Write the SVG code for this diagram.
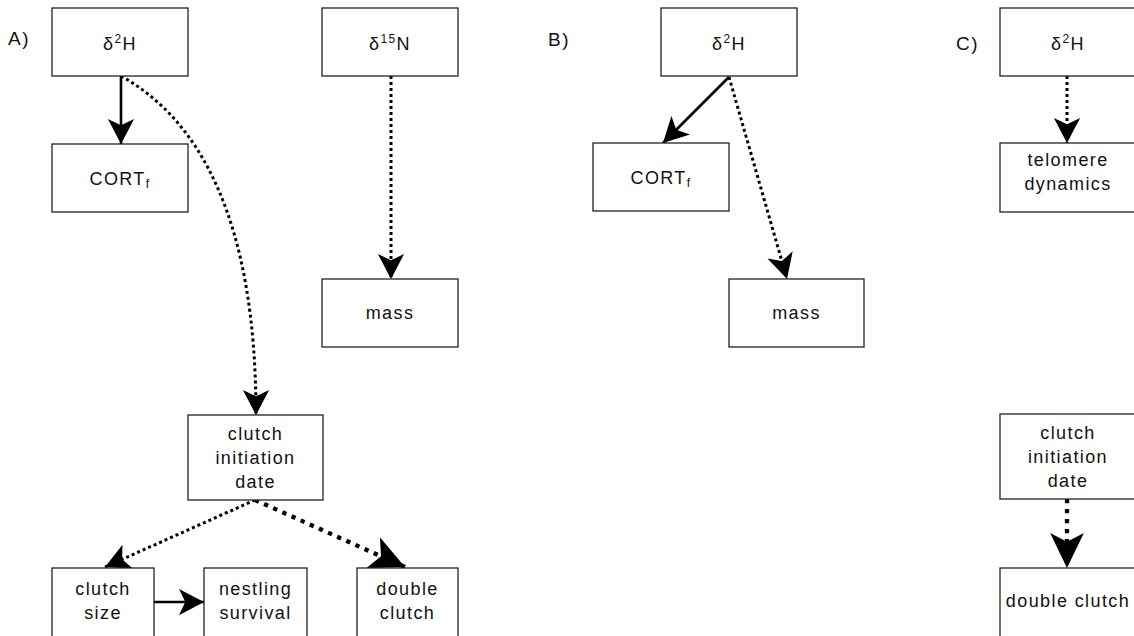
<svg xmlns="http://www.w3.org/2000/svg" width="1134" height="636" viewBox="0 0 1134 636">
<style>
.box{fill:#fff;stroke:#222;stroke-width:1.3}
text{font-family:"Liberation Sans",Arial,sans-serif;font-size:18px;fill:#111;letter-spacing:1.4px}
.c{text-anchor:middle}
.lbl{font-size:19px;letter-spacing:1.5px}
.solid{fill:none;stroke:#000;stroke-width:2.6}
.dot{fill:none;stroke:#000;stroke-width:3;stroke-dasharray:3 3}
.dash{fill:none;stroke:#000;stroke-width:4.3;stroke-dasharray:4.3 5.7}
</style>
<defs>
<marker id="ah" markerUnits="userSpaceOnUse" markerWidth="30" markerHeight="30" viewBox="-22 -12 24 24" refX="0" refY="0" orient="auto" overflow="visible">
<path d="M0,0 L-20,-10.5 L-15,0 L-20,10.5 Z" fill="#000"/>
</marker>
<marker id="ahb" markerUnits="userSpaceOnUse" markerWidth="40" markerHeight="40" viewBox="-30 -15 32 30" refX="0" refY="0" orient="auto" overflow="visible">
<path d="M0,0 L-28,-13.5 L-21,0 L-28,13.5 Z" fill="#000"/>
</marker>
</defs>

<text class="lbl" x="8" y="45">A)</text>
<text class="lbl" x="548" y="46">B)</text>
<text class="lbl" x="956" y="50">C)</text>

<g id="connectors">
<path class="solid" d="M121,76 L121,144" marker-end="url(#ah)"/>
<path class="dot" d="M121,76 C200,120 256,220 256,415" marker-end="url(#ah)"/>
<path class="dot" d="M391,76 L391,279" marker-end="url(#ah)"/>
<path class="dot" d="M255,500 L105,567" marker-end="url(#ah)"/>
<path class="dash" d="M255,500 L405,567" marker-end="url(#ahb)"/>
<path class="solid" d="M154,602 L204,602" marker-end="url(#ah)"/>
<path class="solid" d="M729,77 L663,143" marker-end="url(#ah)"/>
<path class="dot" d="M729,77 L787,279" marker-end="url(#ah)"/>
<path class="dot" d="M1067,76 L1067,143" marker-end="url(#ah)"/>
<path class="dash" d="M1067,499 L1067,568" marker-end="url(#ahb)"/>
</g>

<g id="A_d2H"><rect class="box" x="52" y="8" width="136" height="68"/><text class="c" x="120" y="50">δ<tspan font-size="12" dy="-7">2</tspan><tspan dy="7">H</tspan></text></g>
<g id="A_CORT"><rect class="box" x="52" y="144" width="136" height="68"/><text class="c" x="120" y="185">CORT<tspan font-size="12" dy="3">f</tspan></text></g>
<g id="A_d15N"><rect class="box" x="322" y="8" width="136" height="68"/><text class="c" x="390" y="50">δ<tspan font-size="12" dy="-7">15</tspan><tspan dy="7">N</tspan></text></g>
<g id="A_mass"><rect class="box" x="322" y="279" width="136" height="68"/><text class="c" x="390" y="319">mass</text></g>
<g id="A_cid"><rect class="box" x="188" y="415" width="135" height="85"/><text class="c" x="255.5" y="440">clutch</text><text class="c" x="255.5" y="464">initiation</text><text class="c" x="255.5" y="488">date</text></g>
<g id="A_csize"><rect class="box" x="52" y="568" width="102" height="72"/><text class="c" x="103" y="595">clutch</text><text class="c" x="103" y="619">size</text></g>
<g id="A_nest"><rect class="box" x="204" y="568" width="103" height="72"/><text class="c" x="255.5" y="595">nestling</text><text class="c" x="255.5" y="619">survival</text></g>
<g id="A_dc"><rect class="box" x="357" y="568" width="101" height="72"/><text class="c" x="407.5" y="595">double</text><text class="c" x="407.5" y="619">clutch</text></g>

<g id="B_d2H"><rect class="box" x="661" y="8" width="136" height="68"/><text class="c" x="729" y="50">δ<tspan font-size="12" dy="-7">2</tspan><tspan dy="7">H</tspan></text></g>
<g id="B_CORT"><rect class="box" x="593" y="143" width="136" height="68"/><text class="c" x="661" y="184">CORT<tspan font-size="12" dy="3">f</tspan></text></g>
<g id="B_mass"><rect class="box" x="729" y="279" width="135" height="68"/><text class="c" x="796.5" y="319">mass</text></g>

<g id="C_d2H"><rect class="box" x="1000" y="8" width="136" height="68"/><text class="c" x="1068" y="50">δ<tspan font-size="12" dy="-7">2</tspan><tspan dy="7">H</tspan></text></g>
<g id="C_telo"><rect class="box" x="1000" y="143" width="136" height="69"/><text class="c" x="1068" y="166">telomere</text><text class="c" x="1068" y="190">dynamics</text></g>
<g id="C_cid"><rect class="box" x="1000" y="414" width="136" height="85"/><text class="c" x="1068" y="439">clutch</text><text class="c" x="1068" y="463">initiation</text><text class="c" x="1068" y="487">date</text></g>
<g id="C_dc"><rect class="box" x="1000" y="568" width="136" height="72"/><text class="c" x="1068" y="607">double clutch</text></g>
</svg>
